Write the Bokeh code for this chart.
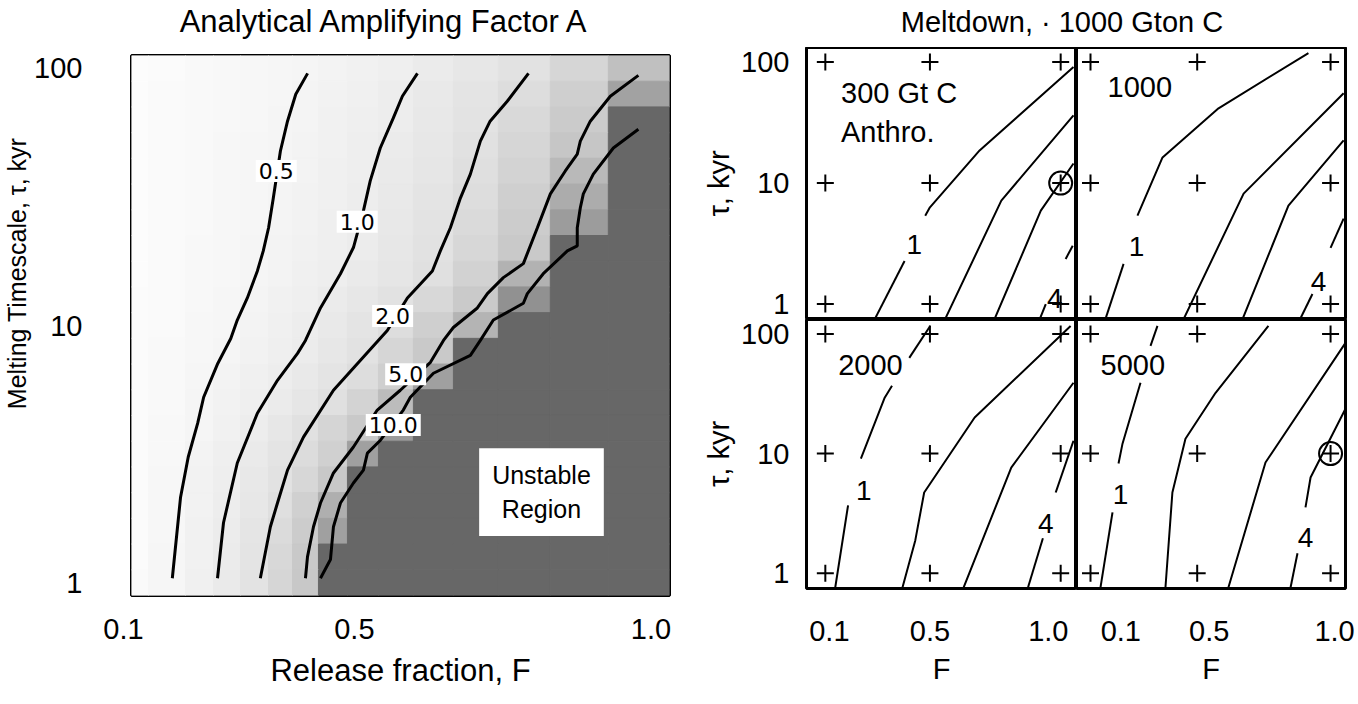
import math
from bokeh.plotting import figure
from bokeh.layouts import row, column
from bokeh.models import Label, Div, FixedTicker, PrintfTickFormatter, CustomJSTickFormatter
from bokeh.embed import file_html
from bokeh.resources import INLINE

SANS = "Liberation Sans"
NB = "\u00a0"

# ---------------- Left panel data: analytical amplifying factor ----------------
F_edges = [0.1, 0.1294, 0.1935, 0.2420, 0.2887, 0.3372, 0.3788, 0.4238, 0.4740, 0.5277,
           0.5883, 0.6576, 0.7355, 0.8255, 0.9260, 1.032]
tau_grid = [1.0, 1.259, 1.585, 1.995, 2.512, 3.162, 3.981, 5.012, 6.310, 7.943, 10.0,
            12.59, 15.85, 19.95, 25.12, 31.62, 39.81, 50.12, 63.10, 79.43, 100.0]
# grey level of each cell, rows from tau=100 (top) down to tau=1; 103 = unstable
shade = [
    [252, 251, 249, 248, 247, 246, 245, 243, 241, 239, 235, 231, 226, 214, 192],
    [252, 250, 249, 248, 247, 246, 244, 242, 240, 237, 233, 228, 221, 207, 162],
    [252, 250, 249, 248, 247, 245, 244, 241, 239, 237, 232, 227, 217, 203, 103],
    [252, 250, 249, 247, 246, 245, 243, 241, 238, 235, 231, 225, 214, 198, 103],
    [252, 250, 249, 247, 246, 245, 243, 240, 238, 234, 230, 223, 211, 185, 103],
    [252, 250, 249, 247, 246, 244, 242, 240, 237, 233, 228, 221, 207, 172, 103],
    [252, 250, 249, 247, 246, 244, 242, 239, 236, 232, 227, 218, 204, 156, 103],
    [252, 250, 248, 247, 245, 243, 241, 239, 236, 231, 226, 215, 201, 103, 103],
    [252, 250, 248, 247, 245, 243, 240, 238, 234, 230, 224, 210, 178, 103, 103],
    [251, 250, 248, 246, 244, 241, 239, 235, 231, 226, 216, 202, 145, 103, 103],
    [251, 250, 247, 246, 243, 240, 237, 233, 228, 221, 207, 180, 103, 103, 103],
    [251, 249, 247, 245, 242, 239, 236, 231, 226, 214, 201, 103, 103, 103, 103],
    [251, 249, 246, 243, 240, 237, 233, 228, 221, 207, 160, 103, 103, 103, 103],
    [251, 249, 245, 242, 239, 235, 230, 224, 211, 188, 103, 103, 103, 103, 103],
    [251, 248, 245, 241, 237, 231, 225, 213, 201, 155, 103, 103, 103, 103, 103],
    [251, 248, 243, 239, 234, 228, 220, 208, 160, 103, 103, 103, 103, 103, 103],
    [251, 247, 242, 238, 232, 226, 215, 200, 103, 103, 103, 103, 103, 103, 103],
    [251, 247, 242, 237, 231, 223, 208, 175, 103, 103, 103, 103, 103, 103, 103],
    [251, 247, 241, 236, 229, 219, 204, 160, 103, 103, 103, 103, 103, 103, 103],
    [251, 246, 241, 235, 228, 216, 201, 103, 103, 103, 103, 103, 103, 103, 103],
    [250, 246, 240, 234, 227, 214, 200, 103, 103, 103, 103, 103, 103, 103, 103],
]

c05_F = [0.4050, 0.3845, 0.3702, 0.3579, 0.3456, 0.3374, 0.3282, 0.3180, 0.3006, 0.2832,
         0.2719, 0.2494, 0.2249, 0.2146, 0.1982, 0.1849, 0.1814, 0.1706]
c05_tau = [95.6, 79.3, 62.3, 47.7, 31.3, 24.0, 19.5, 16.3, 12.8, 10.5,
           8.9, 7.12, 5.26, 4.17, 3.08, 2.15, 1.80, 1.04]
c1_F = [0.5953, 0.5692, 0.5534, 0.5309, 0.5135, 0.5017, 0.4844, 0.4619, 0.4273, 0.4013,
        0.3876, 0.3528, 0.3180, 0.2832, 0.2593, 0.2489]
c1_tau = [95.6, 77.9, 64.0, 49.0, 36.5, 27.9, 20.1, 15.9, 11.7, 8.75,
          7.79, 6.12, 4.56, 2.92, 1.71, 1.04]
c2_F = [0.7877, 0.7509, 0.7212, 0.7043, 0.6870, 0.6697, 0.6524, 0.6350, 0.6212, 0.6004,
        0.5779, 0.5431, 0.4966, 0.4498, 0.3978, 0.3702, 0.3528, 0.3405, 0.3231]
c2_tau = [95.6, 74.5, 62.3, 52.1, 38.8, 31.3, 24.0, 19.5, 16.3, 14.5,
          12.8, 9.56, 7.32, 5.60, 3.68, 2.74, 2.04, 1.65, 1.04]
c5_F = [0.9781, 0.9295, 0.8948, 0.8775, 0.8722, 0.8515, 0.8256, 0.8031, 0.7788, 0.7441,
        0.7165, 0.6991, 0.6575, 0.6404, 0.6178, 0.5656, 0.5257, 0.4844, 0.4498, 0.4273,
        0.4152, 0.4048, 0.4013]
c5_tau = [93.9, 77.9, 62.3, 52.1, 46.4, 39.9, 32.5, 24.0, 17.4, 15.35,
          13.3, 11.7, 9.82, 8.75, 7.19, 5.60, 4.69, 3.37, 2.67, 2.04,
          1.65, 1.26, 1.04]
c10_F = [0.9781, 0.9347, 0.9000, 0.8827, 0.8775, 0.8722, 0.8722, 0.8550, 0.8133, 0.7857,
         0.7788, 0.7268, 0.7043, 0.6870, 0.6230, 0.5830, 0.5708, 0.5312, 0.5086, 0.5017,
         0.4844, 0.4619, 0.4498, 0.4446, 0.4273]
c10_tau = [58.0, 49.0, 38.8, 32.5, 28.7, 24.0, 20.4, 19.5, 15.9, 13.3,
           12.2, 10.5, 8.75, 7.65, 6.52, 5.26, 4.69, 3.58, 3.19, 2.74,
           2.44, 2.04, 1.65, 1.23, 1.04]

level_text = ["0.5", "1.0", "2.0", "5.0", "10.0"]
level_F = [0.3507, 0.4909, 0.5523, 0.5749, 0.5534]
level_tau = [39.9, 25.3, 10.9, 6.46, 4.10]

x_ticks = [0.1, 0.5, 1.0]
x_tick_text = ["0.1", "0.5", "1.0"]
y_ticks = [1, 10, 100]

# ---------------- Right panels data: meltdown model runs ----------------
grid_F = [0.1, 0.5, 1.0, 0.1, 0.5, 1.0, 0.1, 0.5, 1.0]
grid_tau = [1, 1, 1, 10, 10, 10, 100, 100, 100]

run300_F = [[0.289, 0.403], [0.482, 0.50, 0.69, 1.049], [0.558, 0.773, 1.049],
            [0.747, 0.924, 1.049], [0.92, 0.943], [1.019, 1.046]]
run300_tau = [[0.75, 2.27], [5.37, 6.3, 18.6, 90.9], [0.75, 7.16, 36.3],
              [0.75, 5.91, 14.5], [0.75, 1.0], [2.36, 3.03]]
run1000_F = [[0.156, 0.224], [0.276, 0.370, 0.580, 0.917], [0.449, 0.674, 1.049],
             [0.670, 0.842, 1.049], [0.887, 0.932], [1.0, 1.049]]
run1000_tau = [[0.75, 2.15], [5.37, 16.3, 41.5, 118.8], [0.75, 8.18, 55.3],
               [0.75, 6.50, 22.5], [0.76, 1.21], [2.91, 5.08]]
run2000_F = [[0.138, 0.187], [0.236, 0.327, 0.355], [0.421, 0.501],
             [0.395, 0.444, 0.478, 0.671, 1.038], [0.629, 0.811, 1.049],
             [0.875, 0.932], [0.981, 1.049]]
run2000_tau = [[0.76, 3.69], [9.08, 29.3, 36.9], [63.1, 116.6],
               [0.76, 1.88, 4.73, 20.0, 116.6], [0.76, 7.64, 39.1],
               [0.76, 1.96], [4.73, 12.8]]
run5000_F = [[0.1375, 0.1825], [0.205, 0.22, 0.2875], [0.325, 0.351],
             [0.381, 0.407, 0.456, 0.569, 0.767], [0.617, 0.756, 1.056],
             [0.85, 0.876], [0.906, 0.925, 1.056]]
run5000_tau = [[0.76, 3.22], [8.26, 12.1, 39.1], [79.4, 116.6],
               [0.76, 4.73, 13.3, 32.2, 116.6], [0.76, 8.41, 84.1],
               [0.76, 1.47], [3.55, 6.31, 23.7]]

# the tick labels sit a little off their ticks in the original artwork
PICK = "return tick < 0.3 ? a : (tick < 0.8 ? b : c);"

# ---------------- Left figure ----------------
left = figure(width=700, height=657, x_range=(0.0999, 1.032), y_range=(10 ** -0.05, 10 ** 2.05),
              y_axis_type="log", output_backend="svg", toolbar_location=None, title=None,
              min_border_left=131, min_border_right=31, min_border_top=8, min_border_bottom=109)
left.grid.visible = False
left.outline_line_color = "black"
left.outline_line_width = 3
left.outline_line_alpha = 1.0
left.background_fill_color = "white"

ratio = math.sqrt(tau_grid[1] / tau_grid[0])
tau_edges = [tau_grid[0] / ratio] + [math.sqrt(a * b) for a, b in zip(tau_grid[:-1], tau_grid[1:])] + [tau_grid[-1] * ratio]
ql, qr, qb, qt, qc = [], [], [], [], []
nrow = len(tau_grid)
for r, vals in enumerate(shade):
    k = nrow - 1 - r
    for c, g in enumerate(vals):
        ql.append(F_edges[c]); qr.append(F_edges[c + 1])
        qb.append(tau_edges[k]); qt.append(tau_edges[k + 1])
        qc.append("#%02x%02x%02x" % (g, g, g))
left.quad(left=ql, right=qr, bottom=qb, top=qt, fill_color=qc, line_color=qc, line_width=1)

for fx, ty in [(c05_F, c05_tau), (c1_F, c1_tau), (c2_F, c2_tau), (c5_F, c5_tau), (c10_F, c10_tau)]:
    left.line(fx, ty, line_color="black", line_width=3)

for t, fx, ty in zip(level_text, level_F, level_tau):
    left.add_layout(Label(x=fx, y=ty, text=t, text_align="center", text_baseline="middle",
                          text_font="DejaVu Sans", text_font_size="22px", text_color="black",
                          background_fill_color="white", padding=3))
left.add_layout(Label(x=0.8102, y=2.25, text="Unstable\nRegion", text_align="center",
                      text_baseline="middle", text_font=SANS, text_font_size="25px",
                      text_color="black", background_fill_color="white", padding=13))

left.xaxis.ticker = FixedTicker(ticks=x_ticks)
left.xaxis.formatter = CustomJSTickFormatter(args=dict(a=x_tick_text[0] + NB * 2, b=x_tick_text[1] + NB * 2,
                                                       c=x_tick_text[2]), code=PICK)
left.yaxis.ticker = FixedTicker(ticks=y_ticks)
left.yaxis.formatter = PrintfTickFormatter(format="%d")
left.xaxis.axis_label = "Release fraction, F"
left.yaxis.axis_label = NB * 16 + "Melting Timescale,  τ, kyr"
for ax in (left.xaxis[0], left.yaxis[0]):
    ax.axis_line_color = None
    ax.major_tick_line_color = None
    ax.minor_tick_line_color = None
    ax.major_label_text_font = SANS
    ax.major_label_text_font_size = "29px"
    ax.major_label_text_color = "black"
    ax.axis_label_text_font = SANS
    ax.axis_label_text_font_style = "normal"
    ax.axis_label_text_color = "black"
left.xaxis.major_label_standoff = 11
left.xaxis.axis_label_standoff = 5
left.xaxis.axis_label_text_font_size = "31px"
left.yaxis.major_label_standoff = 43
left.yaxis.axis_label_standoff = 0
left.yaxis.axis_label_text_font_size = "25px"

left_title = Div(text='<span style="position:relative;left:33px;">Analytical Amplifying Factor A</span>',
                 width=700, height=47, margin=0,
                 styles={"font-family": SANS, "font-size": "31px", "text-align": "center",
                         "width": "700px", "line-height": "44px", "color": "black"})


# ---------------- Right panels ----------------
def panel(width, height, xr, bl, br, bt, bb, xfmt, show_y, xs, ys, name, name_pos,
          one_pos, four_pos, circle):
    p = figure(width=width, height=height, x_range=xr, y_range=(0.745, 132), y_axis_type="log",
               output_backend="svg", toolbar_location=None, title=None,
               x_axis_location="below" if xfmt is not None else None,
               y_axis_location="left" if show_y else None,
               min_border_left=bl, min_border_right=br, min_border_top=bt, min_border_bottom=bb)
    p.grid.visible = False
    p.outline_line_color = "black"
    p.outline_line_width = 3
    p.outline_line_alpha = 1.0
    p.multi_line(xs, ys, line_color="black", line_width=2)
    p.scatter(grid_F, grid_tau, marker="cross", size=17, line_color="black", line_width=2)
    if circle:
        p.scatter([1.0], [10], marker="circle", size=23, fill_color=None, line_color="black", line_width=2)
    p.add_layout(Label(x=name_pos[0], y=name_pos[1], text=name, text_align="left", text_baseline="top",
                       text_font=SANS, text_font_size="29px", text_color="black"))
    for t, pos in (("1", one_pos), ("4", four_pos)):
        p.add_layout(Label(x=pos[0], y=pos[1], text=t, text_align="center", text_baseline="middle",
                           text_font=SANS, text_font_size="28px", text_color="black"))
    if xfmt is not None:
        ax = p.xaxis[0]
        ax.ticker = FixedTicker(ticks=x_ticks)
        ax.formatter = xfmt
        ax.axis_label = "F"
        ax.major_label_standoff = 20
        ax.axis_label_standoff = 3
    if show_y:
        ax = p.yaxis[0]
        ax.ticker = FixedTicker(ticks=y_ticks)
        ax.formatter = PrintfTickFormatter(format="%d")
        ax.axis_label = "τ, kyr"
        ax.major_label_standoff = 11
        ax.axis_label_standoff = 3
    for ax in list(p.xaxis) + list(p.yaxis):
        ax.axis_line_color = None
        ax.major_tick_line_color = None
        ax.minor_tick_line_color = None
        ax.major_label_text_font = SANS
        ax.major_label_text_font_size = "29px"
        ax.major_label_text_color = "black"
        ax.axis_label_text_font = SANS
        ax.axis_label_text_font_size = "29px"
        ax.axis_label_text_font_style = "normal"
        ax.axis_label_text_color = "black"
    return p


fmt_bl = CustomJSTickFormatter(args=dict(a=NB + x_tick_text[0], b=x_tick_text[1],
                                         c=x_tick_text[2] + NB), code=PICK)
fmt_br = CustomJSTickFormatter(args=dict(a=NB * 3 + x_tick_text[0], b=NB * 3 + x_tick_text[1],
                                         c=NB + x_tick_text[2]), code=PICK)

XR_L = (0.028, 1.0605)
XR_R = (0.0475, 1.056)
tl = panel(376, 272, XR_L, 103, 0, 0, 0, None, True, run300_F, run300_tau,
           "300 Gt C\nAnthro.", (0.16, 75), (0.440, 3.09), (0.977, 1.12), True)
tr = panel(282, 272, XR_R, 0, 13, 0, 0, None, False, run1000_F, run1000_tau,
           "1000", (0.164, 75), (0.2725, 2.97), (0.955, 1.55), False)
bl = panel(376, 385, XR_L, 103, 0, 0, 116, fmt_bl, True, run2000_F, run2000_tau,
           "2000", (0.149, 66.8), (0.2475, 4.92), (0.943, 2.61), False)
brp = panel(282, 385, XR_R, 0, 13, 0, 116, fmt_br, False, run5000_F, run5000_tau,
            "5000", (0.1375, 66.8), (0.2125, 4.55), (0.906, 2.0), True)

title_div = Div(text='<span style="position:relative;left:33px;">Meltdown, · 1000 Gton C</span>',
                width=658, height=47, margin=0,
                styles={"font-family": SANS, "font-size": "29px", "text-align": "center",
                        "width": "658px", "line-height": "44px", "color": "black"})

left_side = column(left_title, left, spacing=0)
right_side = column(title_div, row(tl, tr, spacing=0), row(bl, brp, spacing=0), spacing=0)
layout = row(left_side, right_side, spacing=0)

open("out.html", "w").write(file_html(layout, INLINE))
